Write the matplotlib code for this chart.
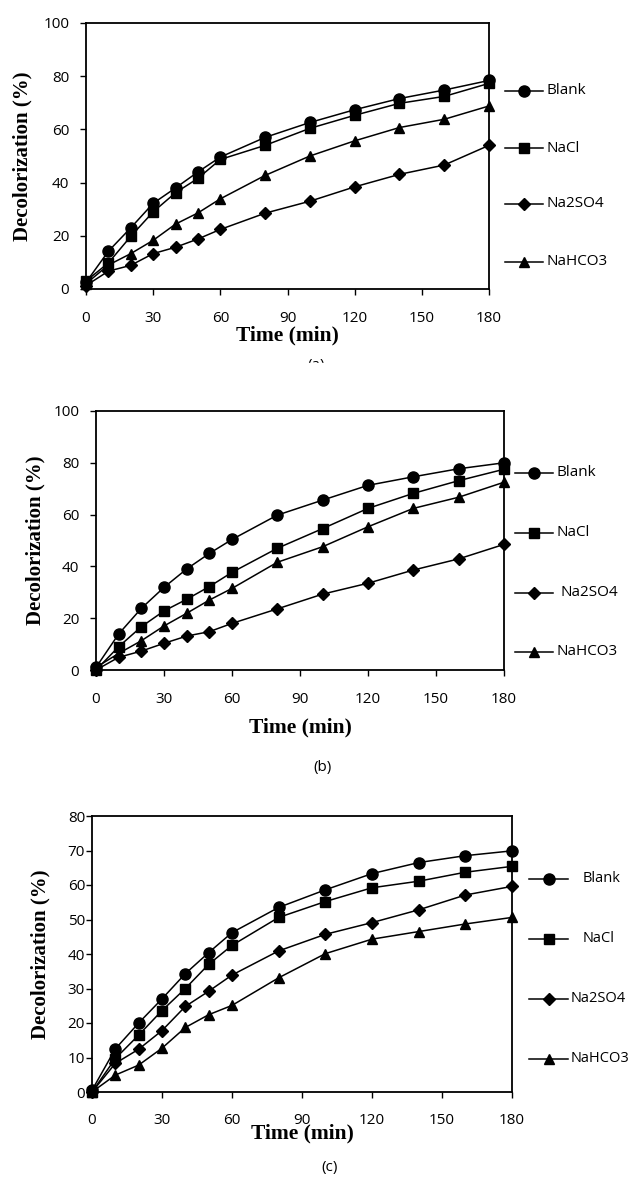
import matplotlib
matplotlib.use("Agg")
import matplotlib.pyplot as plt
from matplotlib.lines import Line2D
from matplotlib.patches import Rectangle

# data
time = [0, 10, 20, 30, 40, 50, 60, 80, 100, 120, 140, 160, 180]
series = ["Blank", "NaCl", "Na2SO4", "NaHCO3"]

a_blank = [2.5, 14.2, 23.0, 32.2, 38.0, 44.0, 49.6, 57.0, 62.6, 67.4, 71.6, 74.8, 78.4]
a_nacl = [3.0, 9.8, 19.8, 29.0, 36.2, 41.6, 48.7, 54.0, 60.4, 65.3, 69.8, 72.4, 77.3]
a_na2so4 = [1.3, 6.7, 8.9, 13.3, 15.7, 18.8, 22.4, 28.5, 33.0, 38.4, 43.1, 46.6, 54.0]
a_nahco3 = [2.0, 9.0, 13.3, 18.3, 24.4, 28.6, 33.9, 42.7, 50.0, 55.7, 60.7, 63.8, 68.8]

b_blank = [1.0, 13.9, 23.8, 31.9, 39.0, 45.0, 50.4, 59.8, 65.6, 71.3, 74.6, 77.7, 80.0]
b_nacl = [0.0, 9.0, 16.7, 22.8, 27.3, 32.2, 37.7, 47.0, 54.6, 62.4, 68.2, 73.1, 77.5]
b_na2so4 = [0.0, 4.9, 7.3, 10.3, 13.1, 14.8, 18.0, 23.6, 29.3, 33.5, 38.6, 42.9, 48.5]
b_nahco3 = [1.0, 6.4, 11.3, 17.0, 21.9, 27.0, 31.5, 41.6, 47.6, 55.3, 62.4, 66.7, 72.5]

c_blank = [0.5, 12.5, 20.0, 27.0, 34.3, 40.4, 46.2, 53.5, 58.6, 63.3, 66.5, 68.5, 69.9]
c_nacl = [0.0, 9.7, 16.5, 23.6, 30.0, 37.0, 42.5, 50.6, 55.2, 59.2, 61.1, 63.7, 65.4]
c_na2so4 = [0.0, 8.3, 12.4, 17.8, 24.8, 29.2, 33.9, 40.9, 45.7, 49.1, 52.8, 57.1, 59.6]
c_nahco3 = [0.0, 4.9, 7.8, 12.7, 18.7, 22.4, 25.1, 33.1, 40.1, 44.3, 46.5, 48.7, 50.6]

W, H = 631, 1180
markers = {"Blank": ("o", 8.0), "NaCl": ("s", 7.5), "Na2SO4": ("D", 5.8), "NaHCO3": ("^", 7.5)}
tick_font = "Open Sans"


def fx(px):
    return px / W


def fy(py):
    return 1 - py / H


def panel(fig, box, data, ymax, ystep, ypad, xpad, ylab_x, xlab_y, leg, leg_fs=11):
    left, top, right, bottom = box
    ax = fig.add_axes([fx(left), fy(bottom), fx(right - left), (bottom - top) / H])
    for name, vals in zip(series, data):
        m, ms = markers[name]
        ax.plot(time, vals, color="black", lw=1.1, marker=m, ms=ms,
                clip_on=False, zorder=3)
    ax.set_xlim(0, 180)
    ax.set_ylim(0, ymax)
    ax.set_xticks(range(0, 181, 30))
    ax.set_yticks(range(0, ymax + 1, ystep))
    ax.tick_params(axis="y", direction="out", length=4, width=1, pad=ypad, labelsize=11)
    ax.tick_params(axis="x", direction="out", length=4, width=1, pad=xpad, labelsize=11)
    for lab in ax.get_xticklabels() + ax.get_yticklabels():
        lab.set_family(tick_font)
    for s in ax.spines.values():
        s.set_linewidth(1.3)
    fig.text(fx(ylab_x), fy((top + bottom) / 2), "Decolorization (%)", rotation=90,
             ha="center", va="center", family="Liberation Serif", weight="bold", fontsize=15)
    fig.text(fx((left + right) / 2), fy(xlab_y), "Time (min)", ha="center", va="center",
             family="Liberation Serif", weight="bold", fontsize=15.5, zorder=5)
    # legend
    x0, x1, ys, txs = leg
    for name, yy, tx_i in zip(series, ys, txs):
        m, ms = markers[name]
        fig.add_artist(Line2D([fx(x0), fx(x1)], [fy(yy), fy(yy)], color="black", lw=1.1,
                              transform=fig.transFigure))
        fig.add_artist(Line2D([fx((x0 + x1) / 2)], [fy(yy)], color="black", marker=m, ms=ms,
                              transform=fig.transFigure))
        fig.text(fx(tx_i), fy(yy), name, ha="left", va="center", family=tick_font,
                 fontsize=leg_fs)
    return ax


fig = plt.figure(figsize=(W / 100, H / 100), dpi=100)

panel(fig, (86, 23, 489, 289), [a_blank, a_nacl, a_na2so4, a_nahco3], 100, 20, 8, 12,
      22, 335, (505, 543, [91, 148, 204, 262], [547, 547, 547, 547]))
panel(fig, (96, 411, 504, 670), [b_blank, b_nacl, b_na2so4, b_nahco3], 100, 20, 8, 12,
      35, 727, (515, 553, [473, 533, 593, 652], [557, 557, 561, 557]))
panel(fig, (92, 816, 512, 1092), [c_blank, c_nacl, c_na2so4, c_nahco3], 80, 10, 1, 11,
      40, 1133, (529, 568, [879, 939, 999, 1059], [583, 583, 571, 571]), leg_fs=10.5)

# panel captions; (a) is cut off at the bottom in the original
fig.text(fx(316), fy(366), "(a)", ha="center", va="center", family=tick_font, fontsize=11)
fig.add_artist(Rectangle((0, fy(385)), 1, (385 - 363) / H, color="white",
                         transform=fig.transFigure, zorder=10))
fig.text(fx(323), fy(767), "(b)", ha="center", va="center", family=tick_font, fontsize=11)
fig.text(fx(330), fy(1167), "(c)", ha="center", va="center", family=tick_font, fontsize=11)

fig.savefig("out.png", dpi=100, facecolor="white")
